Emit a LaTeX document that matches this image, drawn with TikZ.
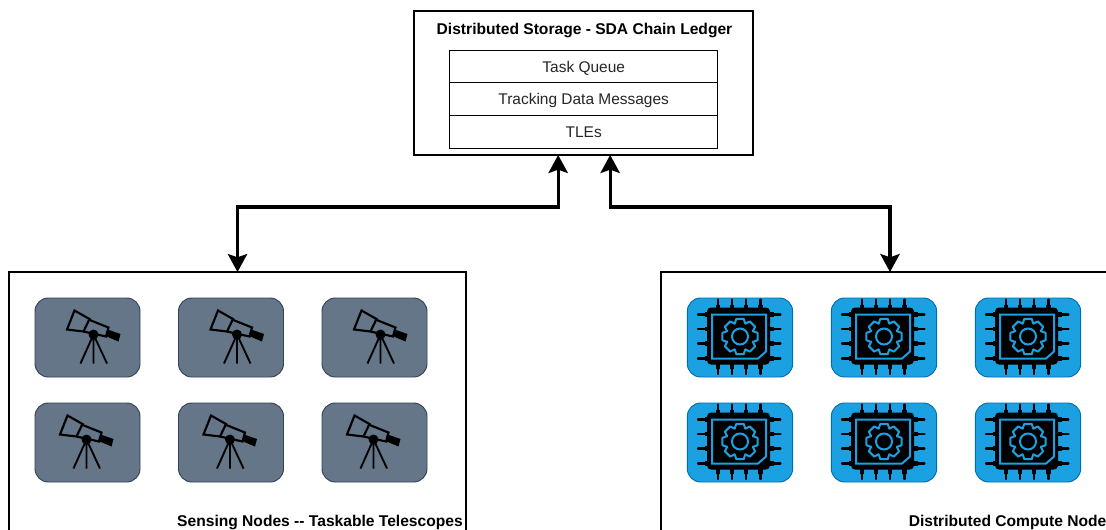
\documentclass[tikz,border=0pt]{standalone}
\usepackage{fontspec}
\setmainfont{Liberation Sans}
\usepackage{xcolor}
\definecolor{slatefill}{HTML}{647687}
\definecolor{slateline}{HTML}{314354}
\definecolor{chipfill}{HTML}{1BA1E2}
\definecolor{chipline}{HTML}{006EAF}
\usetikzlibrary{positioning,arrows.meta,calc}
\tikzset{
	outerbox/.style={draw,line width=0.85pt,fill=white,outer sep=0pt,inner sep=0pt},
	rowbox/.style={draw,line width=0.85pt,outer sep=0pt,inner sep=0pt,minimum width=201pt,minimum height=24.6pt,text height=8.3pt,text depth=0pt,font=\fontsize{11.6}{13}\selectfont,text=black!85},
	titletext/.style={font=\fontsize{11.7}{13}\selectfont\bfseries,inner sep=0pt},
	teletile/.style={draw=slateline,fill=slatefill,line width=0.7pt,rounded corners=10pt,minimum width=78.75pt,minimum height=59.25pt,outer sep=0pt},
	chiptile/.style={draw=chipline,fill=chipfill,line width=0.7pt,rounded corners=10pt,minimum width=79pt,minimum height=59.25pt,outer sep=0pt},
	link/.style={line width=2.3pt,{Stealth[length=13.5pt,width=14.5pt,inset=2.5pt]}-{Stealth[length=13.5pt,width=14.5pt,inset=2.5pt]}},
	pics/telescope/.style={code={
		\draw[line width=1.6pt,line join=miter] (-13,-27) -- (2,-18.5) -- (-4,-6) -- (-20.5,-8) -- cycle;
		\draw[line width=1.6pt] (1,-18) -- (21,-10) -- (18.5,-1) -- (-4,-6);
		\fill (20,-8) -- (33,-3.5) -- (31,4) -- (18,-1.5) -- cycle;
		\fill (6,-3) circle (5);
		\draw[line width=1.4pt] (6,-3) -- (-7,26) (6,-3) -- (6,26) (6,-3) -- (19.5,26);
	}},
	pics/chip/.style={code={
		% pins
		\foreach \p in {-23,-8.5,6,21} {
			\draw[line width=1.6pt,line cap=round] (-42,\p) -- (-30,\p) (29,\p) -- (40.5,\p);
			\draw[line width=3.6pt] (-35,\p) -- (-30,\p) (29,\p) -- (34,\p);
		}
		\foreach \p in {-22,-8,6,20.5} {
			\draw[line width=1.6pt,line cap=round] (\p,-38) -- (\p,-28) (\p,26) -- (\p,36.5);
			\draw[line width=3.6pt] (\p,-33) -- (\p,-28) (\p,26) -- (\p,31);
		}
		% body
		\fill[black,rounded corners=3pt] (-33,-30) rectangle (30,27);
		\draw[chipfill,line width=1.5pt] (-28,-23) -- (26,-23) -- (26,14) -- (18,21) -- (-28,21) -- cycle;
		% gear
		\draw[chipfill,line width=1.5pt,line join=round,shift={(0,-1)}] (-22:14)
			\foreach \a in {0,45,...,315} { -- (\a-22:14) -- (\a-12:18) -- (\a+12:18) -- (\a+22:14) } -- cycle;
		\draw[chipfill,line width=1.5pt] (0,-1) circle (8);
	}}
}
\begin{document}
\begin{tikzpicture}[x=0.75pt,y=-0.75pt]
	\useasboundingbox (0,0) rectangle (1106,529);
	\clip (0,0) rectangle (1106,529);

	% draw storage
	\node[outerbox,minimum width=254.25pt,minimum height=108pt] (storage) at (583.5,83) {};
	\node[titletext] (storagetitle) at (584.5,30) {Distributed Storage - SDA Chain Ledger};
	\node[rowbox] (queue) at (583.7,66.5) {Task Queue};
	\node[rowbox,below=0pt of queue] (messages) {Tracking Data Messages};
	\node[rowbox,below=0pt of messages] (tles) {TLEs};

	% draw node groups
	\node[outerbox,minimum width=342.75pt,minimum height=225pt] (sensing) at (237.5,422) {};
	\node[outerbox,minimum width=343.5pt,minimum height=225pt] (compute) at (890,422) {};
	\node[titletext,anchor=east] (sensinglabel) at (463,522) {Sensing Nodes -{}- Taskable Telescopes};
	\node[titletext,anchor=west] (computelabel) at (908.5,522) {Distributed Compute Node};

	% draw tiles
	\foreach \c/\tx/\cx in {1/87.5/740,2/231/884,3/374.5/1028} {
		\node[teletile] (tele1\c) at (\tx,337.5) {};
		\node[teletile] (tele2\c) at (\tx,442.5) {};
		\pic at (tele1\c.center) {telescope};
		\pic at ([xshift=-5.25pt]tele2\c.center) {telescope};
		\node[chiptile] (chip1\c) at (\cx,337.5) {};
		\node[chiptile] (chip2\c) at (\cx,442.5) {};
		\pic at (chip1\c.center) {chip};
		\pic at (chip2\c.center) {chip};
	}

	% draw arrows
	\coordinate (storeleft) at ([xshift=-19pt]storage.south);
	\coordinate (storeright) at ([xshift=20pt]storage.south);
	\draw[link] (sensing.north) -- ++(0,-65) -| (storeleft);
	\draw[link] (storeright) -- ++(0,52) -| (compute.north);
\end{tikzpicture}
\end{document}
